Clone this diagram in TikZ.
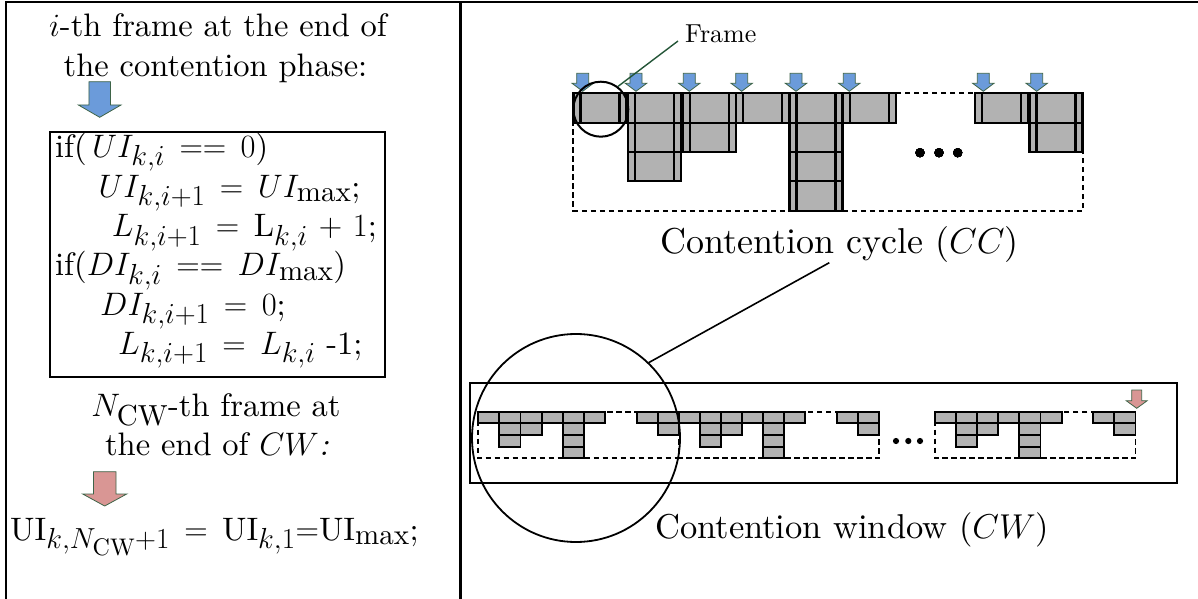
\RequirePackage{fix-cm}
\documentclass[tikz,border=0pt]{standalone}
\usepackage{fontspec}
\setmainfont{lmroman10-regular.otf}[
  ItalicFont=lmroman10-italic.otf,
  BoldFont=lmroman10-bold.otf,
  BoldItalicFont=lmroman10-bolditalic.otf]
\DeclareMathSizes{32.5}{32.5}{29}{24}
\definecolor{cellgray}{RGB}{178,178,178}
\definecolor{arrowblue}{RGB}{107,155,218}
\definecolor{arrowpink}{RGB}{217,150,148}
\definecolor{arrowedge}{RGB}{62,100,72}
\definecolor{pointer}{RGB}{35,85,55}

\tikzset{
  slotline/.style={draw=black, line width=2.2pt},
  minicell/.style={fill=cellgray, draw=black, line width=1.9pt},
  dashline/.style={draw=black, line width=1.9pt, dash pattern=on 5.5pt off 3.5pt},
  bluearrow/.style={fill=arrowblue, draw=arrowedge, line width=0.8pt},
  pinkarrow/.style={fill=arrowpink, draw=arrowedge, line width=0.8pt},
  lefttext/.style={inner sep=0pt, font=\fontsize{32.5}{39}\selectfont},
  cctext/.style={inner sep=0pt, font=\fontsize{36}{43}\selectfont},
  cwtext/.style={inner sep=0pt, font=\fontsize{34.5}{41}\selectfont},
  smalltext/.style={inner sep=0pt, font=\fontsize{26}{31}\selectfont},
}

% block arrow pointing down: style, centre x, top y, tip y, shaft half width, head half width, head length
\newcommand\blockarrow[7]{%
  \draw[#1] ({#2-#5},#3) -- ({#2+#5},#3) -- ({#2+#5},{#4-#7}) -- ({#2+#6},{#4-#7})
    -- (#2,#4) -- ({#2-#6},{#4-#7}) -- ({#2-#5},{#4-#7}) -- cycle;}

% one frame of the contention cycle: left x, number of stacked slots
\newcommand\slotcolumn[2]{%
  \foreach \r in {1,...,#2} {
    \fill[cellgray] (#1,{93.3+(\r-1)*29.35}) rectangle ++(53,29.35);
    \draw[slotline] (#1,{93.3+(\r-1)*29.35}) rectangle ++(53,29.35);
  }
  \draw[slotline] ({#1+7},93.3) -- ++(0,{#2*29.35});
  \draw[slotline] ({#1+46},93.3) -- ++(0,{#2*29.35});
}

% one small column of the contention window: left x, number of slots
\newcommand\minicol[2]{%
  \foreach \r in {1,...,#2}
    \draw[minicell] (#1,{411.7+(\r-1)*11.67}) rectangle ++(21.1,11.67);
}

% one small contention cycle starting at x
\newcommand\minicc[1]{%
  \draw[dashline] (#1,411.7) rectangle ++(200.5,46.67);
  \foreach \i/\n in {0/1,1/3,2/2,3/1,4/4,5/1}
    \minicol{#1+\i*21.1}{\n};
  \foreach \i/\n in {0/1,1/2}
    \minicol{#1+158.3+\i*21.1}{\n};
}

\begin{document}
\begin{tikzpicture}[x=1pt, y=-1pt]
% wider spacing around relations and binary operators in the formulas
\thickmuskip=8mu plus 4mu
\medmuskip=6mu plus 2mu minus 2mu
\useasboundingbox (0,0) rectangle (1198,599);

% panel borders
\draw[line width=2pt] (5,2.5) -- (1198,2.5);
\draw[line width=2.5pt] (6,2.5) -- (6,599);
\draw[line width=3pt] (460,2.5) -- (460,599);

% ---------- left panel ----------
\node[lefttext, anchor=base] (t1) at (218,36.7) {$i$-th frame at the end of};
\node[lefttext, anchor=base] (t2) at (215.5,76.7) {the contention phase:};
\blockarrow{bluearrow}{99.7}{81.7}{117.3}{10.8}{21.3}{12.3}

\draw[line width=2pt] (50,131.7) rectangle (385,377.3);
\node[lefttext, anchor=base west] (c1) at (55,157) {if($\,UI_{k,i} == 0$)};
\node[lefttext, anchor=base west] (c2) at (98.3,197) {$UI_{k,i+1} = UI_{\mathrm{max}}$;};
\node[lefttext, anchor=base west] (c3) at (111.7,236.5) {$L_{k,i+1} = \mathrm{L}_{k,i} + 1$;};
\node[lefttext, anchor=base west] (c4) at (55,275.5) {if($DI_{k,i} == DI_{\mathrm{max}}$)};
\node[lefttext, anchor=base west] (c5) at (100,315) {$DI_{k,i+1} = 0$;};
\node[lefttext, anchor=base west] (c6) at (118,354) {$L_{k,i+1} = L_{k,i}$ -1;};

\node[lefttext, anchor=base] (t3) at (216,416) {$N_{\mathrm{CW}}$-th frame at};
\node[lefttext, anchor=base] (t4) at (217,455) {the end of $CW$\textit{:}};
\blockarrow{pinkarrow}{104.7}{471.7}{506}{11.3}{22}{12}
\node[lefttext, anchor=base west] (t5) at (10,540)
  {$\mathrm{UI}_{k,N_{\mathrm{CW}}+1} = \mathrm{UI}_{k,1}{=}\mathrm{UI}_{\mathrm{max}}$;};

% ---------- contention cycle ----------
\draw[dashline] (573.3,93.3) rectangle (1083.3,210.7);
\foreach \x/\n in {573.5/1, 628.3/3, 682.7/2, 736/1, 789.5/4, 843.3/1, 975/1, 1029.5/2}
  \slotcolumn{\x}{\n};
\foreach \cx in {582.7, 636, 689.3, 741.7, 796, 849.3, 983.3, 1036.7}
  \blockarrow{bluearrow}{\cx}{73.3}{91.3}{6}{10.7}{8}
\foreach \dx in {920, 939, 957.7}
  \fill (\dx,152.7) circle (4.6);

\node[circle, draw, line width=2pt, minimum size=55pt, inner sep=0pt] (smallc) at (600.8,109.2) {};
\node[smalltext, anchor=base west] (framelbl) at (685,43) {Frame};
\coordinate (frametail) at (678,41);
\draw[pointer, line width=1.4pt] (frametail) -- (smallc.53);

\node[cctext, anchor=base west] (cclbl) at (660,253) {Contention cycle ($CC$)};

% ---------- contention window ----------
\draw[line width=1.8pt] (470,382.7) rectangle (1177,483.3);
\minicc{478.3}
\minicc{678.8}
\minicc{935}
\foreach \dx in {896, 908.3, 920}
  \fill (\dx,441) circle (3.1);
\blockarrow{pinkarrow}{1136.7}{390}{408.3}{5}{10.5}{7.6}

\node[circle, draw, line width=1.8pt, minimum size=208pt, inner sep=0pt] (bigc) at (576,438) {};
\coordinate (cctail) at (829.3,262.7);
\draw[line width=1.6pt] (cctail) -- (bigc.46.6);

\node[cwtext, anchor=base west] (cwlbl) at (655,538.3) {Contention window ($CW$)};
\end{tikzpicture}
\end{document}
